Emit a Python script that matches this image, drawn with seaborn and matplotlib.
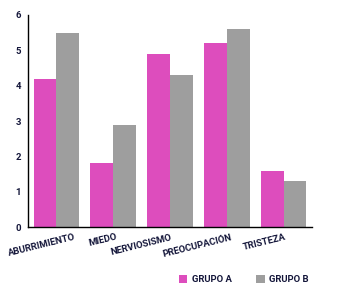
import matplotlib
matplotlib.use("Agg")
import matplotlib.pyplot as plt
import seaborn as sns
import pandas as pd

categorias = ['ABURRIMIENTO', 'MIEDO', 'NERVIOSISMO', 'PREOCUPACIÓN', 'TRISTEZA']
grupo_a = [4.2, 1.8, 4.9, 5.2, 1.6]
grupo_b = [5.5, 2.9, 4.3, 5.6, 1.3]
grupos = ['GRUPO A', 'GRUPO B']
colores = ['#dd4dbd', '#9e9e9e']
texto = '#14163a'

df = pd.DataFrame({
    'categoria': categorias * 2,
    'valor': grupo_a + grupo_b,
    'grupo': [grupos[0]] * len(categorias) + [grupos[1]] * len(categorias),
})

sns.set_style('white')
plt.rcParams['font.family'] = ['Roboto', 'DejaVu Sans']

fig, ax = plt.subplots(figsize=(3.4, 2.93), dpi=100)
fig.subplots_adjust(left=0.082, right=0.918, top=0.949, bottom=0.225)

sns.barplot(data=df, x='categoria', y='valor', hue='grupo', palette=colores,
            width=0.8, saturation=1, linewidth=0, ax=ax,
            order=categorias, hue_order=grupos)

ax.set_xlim(-0.5, len(categorias) - 0.5)
ax.set_ylim(0, 6)
ax.set_xlabel('')
ax.set_ylabel('')

# ticks del eje x en los limites de cada categoria, etiquetas aparte
ax.set_xticks([i - 0.5 for i in range(len(categorias) + 1)])
ax.set_xticklabels([])
ax.tick_params(axis='x', which='major', direction='in', length=5, width=1, color='black')

desplaz = [0.35, 0.09, 0.05, 0.1, 0.05]
ax.set_xticks([i + d for i, d in enumerate(desplaz)], minor=True)
ax.set_xticklabels(categorias, minor=True, rotation=14, ha='right', va='top',
                   fontsize=6.8, fontweight='bold', color=texto)
ax.tick_params(axis='x', which='minor', length=0, pad=4)

ax.set_yticks(range(0, 7))
ax.set_yticklabels([str(v) for v in range(0, 7)], fontsize=6.8, fontweight='bold', color=texto)
ax.tick_params(axis='y', direction='in', length=5, width=1, color='black', pad=5)

for lado in ['top', 'right']:
    ax.spines[lado].set_visible(False)
for lado in ['left', 'bottom']:
    ax.spines[lado].set_color('black')
    ax.spines[lado].set_linewidth(1)

ax.legend(loc='upper left', bbox_to_anchor=(0.53, -0.225), ncol=2, frameon=False,
          borderaxespad=0, borderpad=0,
          handlelength=0.9, handleheight=0.9, handletextpad=0.5, columnspacing=2.6,
          prop={'size': 6.8, 'weight': 'bold'}, labelcolor=texto)

plt.savefig('out.png', dpi=100)
